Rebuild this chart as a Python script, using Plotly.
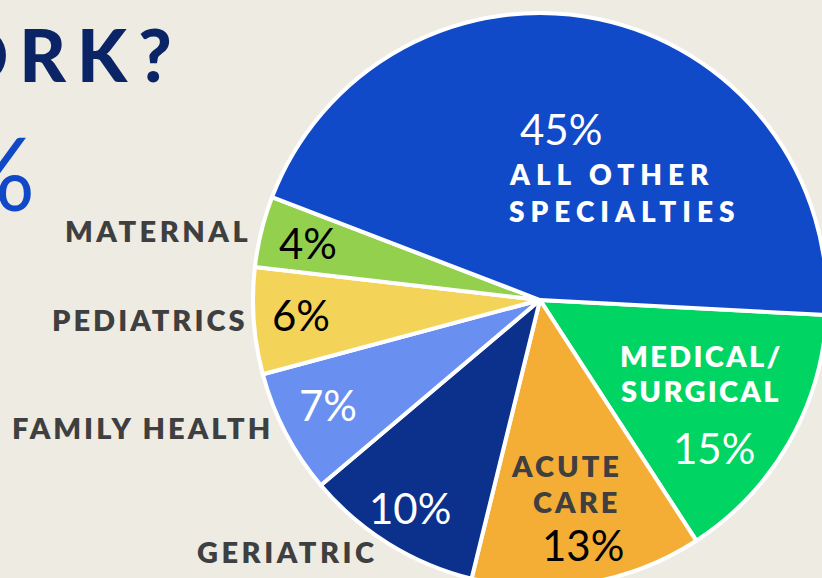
import plotly.graph_objects as go

# ---- data ----
specialties = ["Medical/Surgical", "Acute Care", "Geriatric", "Family Health",
               "Pediatrics", "Maternal", "All Other Specialties"]
shares = [15, 13, 10, 7, 6, 4, 45]
slice_colors = ["#00D463", "#F5AE35", "#0C318C", "#6990F0", "#F3D458", "#92D04E", "#114AC8"]

# figure is slightly larger than the 822x578 view so the pie runs off the edges
FW, FH = 830, 592
BG = "#EEEBE2"
GRAY = "#3F3F3F"
FONT = "Lato, 'Open Sans', sans-serif"

CX, CY, R = 540, 300, 287   # pie placement in pixels (layout only)

fig = go.Figure(go.Pie(
    labels=specialties, values=shares, sort=False,
    direction="clockwise", rotation=93,
    marker=dict(colors=slice_colors, line=dict(color="white", width=4)),
    textinfo="none", hoverinfo="label+percent", showlegend=False,
    domain=dict(x=[(CX - R) / FW, (CX + R) / FW],
                y=[1 - (CY + R) / FH, 1 - (CY - R) / FH]),
))


def px(x, y):
    return x / FW, 1 - y / FH


def ann(text, x, y, size, color, weight=400, xanchor="center", spacing=0):
    xp, yp = px(x, y)
    if spacing:
        text = f"<span style='letter-spacing:{spacing}px'>{text}</span>"
    fig.add_annotation(text=text, x=xp, y=yp, xref="paper", yref="paper",
                       xanchor=xanchor, yanchor="middle", showarrow=False,
                       font=dict(family=FONT, size=size, color=color, weight=weight))


# header fragments (cropped infographic)
ann("WORK?", 185, 54, 72, "#0A2466", 900, xanchor="right", spacing=11)
ann("%", 37, 172, 100, "#1148C8", 400, xanchor="right")

# outside category labels
ann("MATERNAL", 253, 231, 29, GRAY, 800, xanchor="right", spacing=3.5)
ann("PEDIATRICS", 250, 319, 29, GRAY, 800, xanchor="right", spacing=3)
ann("FAMILY HEALTH", 275, 427, 29, GRAY, 800, xanchor="right", spacing=3)
ann("GERIATRIC", 379, 551, 29, GRAY, 800, xanchor="right", spacing=3.5)

# percentages inside the slices
pct = [f"{v}%" for v in shares]
ann(pct[5], 308, 243, 42, "black", 400)
ann(pct[4], 301, 315, 42, "black", 400)
ann(pct[3], 328, 405, 42, "white", 400)
ann(pct[2], 410, 508, 42, "white", 400)
ann(pct[1], 583, 545, 42, "black", 400)
ann(pct[0], 714, 448, 42, "white", 400)
ann(pct[6], 561, 129, 42, "white", 400)

# names inside the slices
ann("ACUTE", 566, 465, 29, GRAY, 800, spacing=3)
ann("CARE", 576, 501, 29, GRAY, 800, spacing=3)
ann("MEDICAL/", 701, 355, 29, "white", 800, spacing=2.3)
ann("SURGICAL", 701, 390, 29, "white", 800, spacing=2.3)
ann("ALL OTHER", 507, 174, 28, "white", 800, xanchor="left", spacing=6)
ann("SPECIALTIES", 507, 211, 28, "white", 800, xanchor="left", spacing=6)

fig.update_layout(
    width=FW, height=FH, margin=dict(l=0, r=0, t=0, b=0),
    paper_bgcolor=BG, plot_bgcolor=BG,
)

fig.write_html(
    "out.html",
    config={"displayModeBar": False},
    post_script="document.body.style.margin='0';document.body.style.overflow='hidden';"
                "document.body.style.background='" + BG + "';",
)
